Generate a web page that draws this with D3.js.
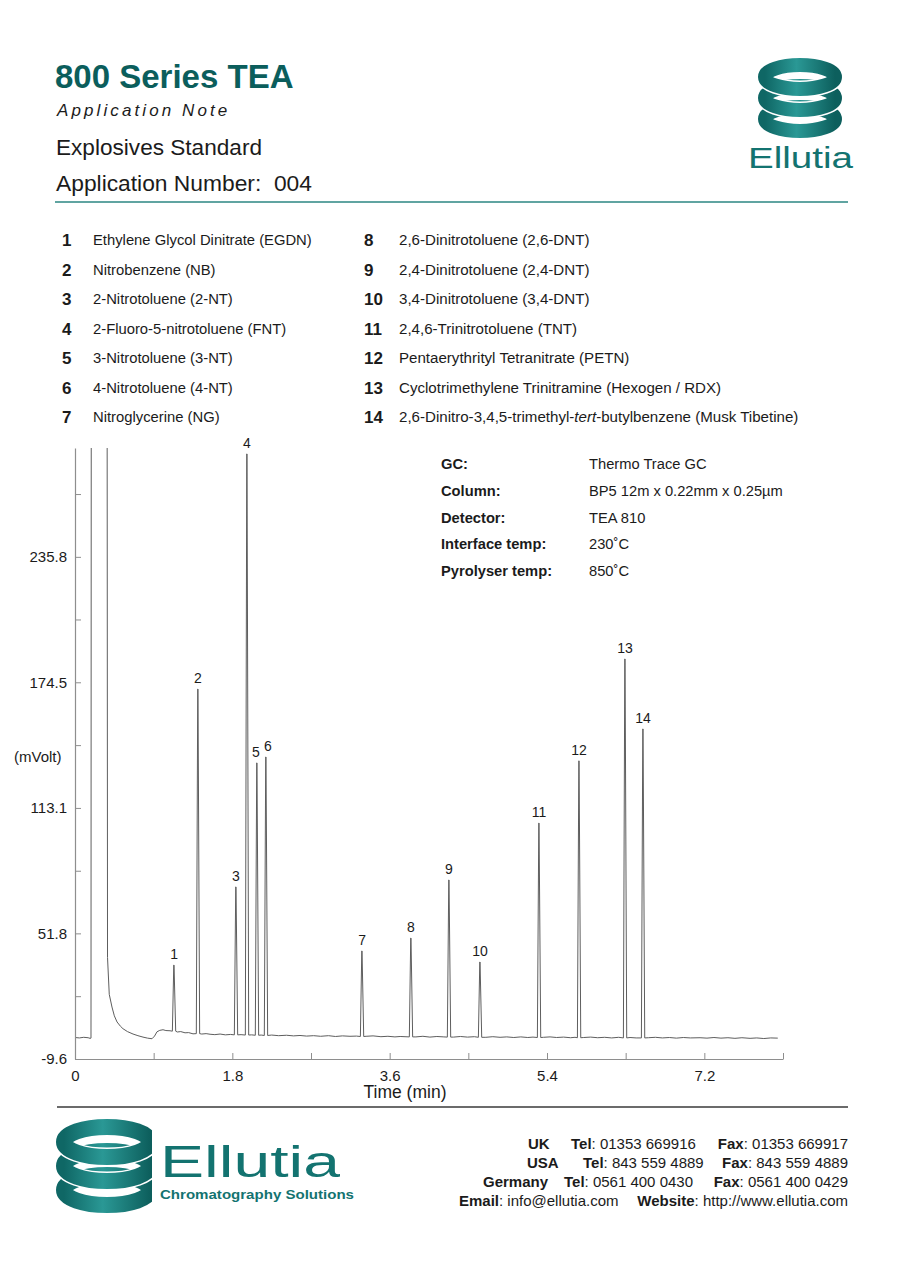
<!DOCTYPE html>
<html>
<head>
<meta charset="utf-8">
<script src="https://cdn.jsdelivr.net/npm/d3@7"></script>
<style>
  html, body { margin: 0; padding: 0; background: #fff; }
  svg { display: block; font-family: "Liberation Sans", Arial, Helvetica, sans-serif; }
  text { white-space: pre; }
</style>
</head>
<body>
<svg id="chart" width="900" height="1273"></svg>
<script>
// ---------------- DATA ----------------
const compoundIds = [1,2,3,4,5,6,7,8,9,10,11,12,13,14];
const compoundNames = [
  "Ethylene Glycol Dinitrate (EGDN)",
  "Nitrobenzene (NB)",
  "2-Nitrotoluene (2-NT)",
  "2-Fluoro-5-nitrotoluene (FNT)",
  "3-Nitrotoluene (3-NT)",
  "4-Nitrotoluene (4-NT)",
  "Nitroglycerine (NG)",
  "2,6-Dinitrotoluene (2,6-DNT)",
  "2,4-Dinitrotoluene (2,4-DNT)",
  "3,4-Dinitrotoluene (3,4-DNT)",
  "2,4,6-Trinitrotoluene (TNT)",
  "Pentaerythrityl Tetranitrate (PETN)",
  "Cyclotrimethylene Trinitramine (Hexogen / RDX)",
  "2,6-Dinitro-3,4,5-trimethyl-|tert|-butylbenzene (Musk Tibetine)"
];
const infoLabels = ["GC:", "Column:", "Detector:", "Interface temp:", "Pyrolyser temp:"];
const infoValues = ["Thermo Trace GC", "BP5 12m x 0.22mm x 0.25\u00B5m", "TEA 810", "230\u02DAC", "850\u02DAC"];

// retention time (min), apex (mV) and local baseline (mV) of each numbered peak
const peakTimes   = [1.133, 1.407, 1.842, 1.968, 2.082, 2.185, 3.284, 3.844, 4.279, 4.634, 5.309, 5.767, 6.293, 6.499];
const peakHeights = [36.3, 171.2, 74.5, 286.1, 135.1, 138.0, 43.2, 49.5, 77.9, 37.8, 105.7, 136.1, 185.9, 151.7];
const peakBase    = [4.0, 2.8, 2.2, 2.1, 2.0, 1.9, 1.4, 1.2, 1.1, 1.0, 0.9, 0.8, 0.7, 0.7];
const peakHalfWidth = 0.019;

// solvent front (goes off scale)
const solventTrace = [[0.183, 0.6], [0.187, 420], [0.366, 420], [0.372, 40], [0.392, 22], [0.423, 15.8], [0.45, 11.5],
  [0.481, 8.5], [0.52, 6.4], [0.549, 5.2], [0.60, 3.8], [0.664, 2.6], [0.72, 1.8], [0.778, 1.1], [0.83, 0.6], [0.881, 0.3],
  [0.91, 1.6], [0.938, 3.7], [0.97, 4.4], [1.007, 4.7], [1.04, 4.3], [1.087, 4.2]];

// baseline (min, mV)
const baselineTrace = [[0.00, 0.9], [0.05, 0.7], [0.10, 1.0], [0.15, 0.8], [0.172, 0.5],
  [1.17, 3.6], [1.21, 3.8], [1.259, 3.2], [1.30, 3.3], [1.35, 2.7],
  [1.45, 2.6], [1.50, 2.8], [1.545, 2.5], [1.60, 2.3], [1.66, 2.6], [1.72, 2.2], [1.78, 2.4],
  [1.90, 2.3], [2.02, 2.2], [2.13, 2.1],
  [2.25, 2.1], [2.33, 1.8], [2.42, 2.0], [2.50, 1.7], [2.574, 1.9], [2.65, 1.6], [2.73, 1.8], [2.81, 1.5], [2.90, 1.8],
  [2.98, 1.4], [3.06, 1.7], [3.146, 1.5], [3.22, 1.6], [3.33, 1.5], [3.41, 1.7], [3.50, 1.3], [3.58, 1.5], [3.66, 1.2],
  [3.72, 1.4], [3.90, 1.2], [3.98, 1.5], [4.06, 1.1], [4.14, 1.4], [4.22, 1.2], [4.33, 1.1], [4.41, 1.4], [4.49, 1.1],
  [4.57, 1.3], [4.70, 1.0], [4.78, 1.3], [4.863, 1.0], [4.94, 1.2], [5.02, 0.9], [5.10, 1.2], [5.18, 0.9], [5.24, 1.1],
  [5.36, 1.0], [5.435, 1.2], [5.51, 0.9], [5.59, 1.1], [5.67, 0.8], [5.72, 1.0], [5.82, 0.9], [5.90, 1.1], [5.98, 0.8],
  [6.06, 1.0], [6.14, 0.7], [6.22, 1.0], [6.35, 0.9], [6.42, 0.7], [6.56, 0.8], [6.64, 1.0], [6.72, 0.7], [6.80, 0.9],
  [6.88, 0.6], [6.96, 0.9], [7.04, 0.7], [7.151, 0.8], [7.23, 0.6], [7.31, 0.9], [7.39, 0.6], [7.47, 0.8], [7.55, 0.5],
  [7.63, 0.8], [7.723, 0.5], [7.80, 0.7], [7.88, 0.4], [7.96, 0.7], [8.04, 0.6]];

const xTickValues = [0, 0.9, 1.8, 2.7, 3.6, 4.5, 5.4, 6.3, 7.2, 8.1];
const xTickLabels = ["0", "", "1.8", "", "3.6", "", "5.4", "", "7.2", ""];
const yTickValues = [-9.6, 21.1, 51.8, 82.4, 113.1, 143.8, 174.5, 205.2, 235.8, 266.5];
const yTickLabels = ["-9.6", "", "51.8", "", "113.1", "", "174.5", "", "235.8", ""];
const xDomain = [0, 8.1];
const yDomain = [-9.6, 289];

const contactLeft = ["UK", "USA", "Germany"];
const contactTel = ["01353 669916", "843 559 4889", "0561 400 0430"];
const contactFax = ["01353 669917", "843 559 4889", "0561 400 0429"];
const contactEmail = "info@ellutia.com";
const contactWeb = "http://www.ellutia.com";

// ---------------- DRAW ----------------
const svg = d3.select("#chart");
const TEAL = "#0b5e5c";
const INK = "#1b1b1b";

const defs = svg.append("defs");
const grad = defs.append("linearGradient").attr("id", "tealGrad").attr("x1", 0).attr("x2", 1).attr("y1", 0).attr("y2", 0);
grad.append("stop").attr("offset", "0%").attr("stop-color", "#0f6765");
grad.append("stop").attr("offset", "45%").attr("stop-color", "#2a9895");
grad.append("stop").attr("offset", "100%").attr("stop-color", "#0d5f5d");

function drawRings(g, cx, cy0, rx, ry, gap, sw) {
  for (let i = 2; i >= 0; i--) {
    const cy = cy0 + i * gap;
    g.append("ellipse").attr("cx", cx).attr("cy", cy).attr("rx", rx).attr("ry", ry)
      .attr("fill", "none").attr("stroke", "#fff").attr("stroke-width", sw + 3);
    g.append("ellipse").attr("cx", cx).attr("cy", cy).attr("rx", rx).attr("ry", ry)
      .attr("fill", "none").attr("stroke", "url(#tealGrad)").attr("stroke-width", sw);
  }
}

// Header
svg.append("text").attr("x", 55).attr("y", 88).attr("font-size", 33).attr("font-weight", "bold")
  .attr("fill", TEAL).text("800 Series TEA");
svg.append("text").attr("x", 57).attr("y", 116).attr("font-size", 17).attr("font-style", "italic")
  .attr("letter-spacing", 3.1).attr("fill", INK).text("Application Note");
svg.append("text").attr("x", 56).attr("y", 155).attr("font-size", 22.6).attr("fill", INK).text("Explosives Standard");
svg.append("text").attr("x", 56).attr("y", 191).attr("font-size", 22.8).attr("fill", INK).text("Application Number:  004");
svg.append("line").attr("x1", 55).attr("x2", 848).attr("y1", 202).attr("y2", 202)
  .attr("stroke", "#2b8682").attr("stroke-width", 1.3);

// Header logo
const logo1 = svg.append("g");
drawRings(logo1, 800, 77, 35, 12, 21, 14);
svg.append("text").attr("x", 748).attr("y", 168).attr("font-size", 30).attr("fill", "#137370")
  .attr("textLength", 105).attr("lengthAdjust", "spacingAndGlyphs").text("Ellutia");

// Compound list
const rowY0 = 245, rowDY = 29.5;
compoundIds.forEach((id, i) => {
  const col = i < 7 ? 0 : 1;
  const r = i % 7;
  const yy = rowY0 + r * rowDY;
  svg.append("text").attr("x", col ? 364 : 62).attr("y", yy + 1).attr("font-size", 17).attr("font-weight", "bold")
    .attr("fill", INK).text(id);
  const t = svg.append("text").attr("x", col ? 399 : 93).attr("y", yy).attr("font-size", col ? 15.1 : 14.8).attr("fill", INK);
  compoundNames[i].split("|").forEach((part, k) => {
    t.append("tspan").attr("font-style", k === 1 ? "italic" : null).text(part);
  });
});

// Info block
infoLabels.forEach((lab, i) => {
  const yy = 469 + i * 26.8;
  svg.append("text").attr("x", 441).attr("y", yy).attr("font-size", 14.7).attr("font-weight", "bold").attr("fill", INK).text(lab);
  svg.append("text").attr("x", 589).attr("y", yy).attr("font-size", 14.7).attr("fill", INK).text(infoValues[i]);
});

// Chart
const x = d3.scaleLinear().domain(xDomain).range([75, 783]);
const y = d3.scaleLinear().domain(yDomain).range([1059, 448]);

defs.append("clipPath").attr("id", "plotClip").append("rect")
  .attr("x", 74).attr("y", 448).attr("width", 712).attr("height", 612);

const peakPts = [];
peakTimes.forEach((t, i) => {
  peakPts.push([t - peakHalfWidth, peakBase[i]], [t - 0.003, peakHeights[i]], [t, peakHeights[i]], [t + peakHalfWidth, peakBase[i]]);
});
const trace = baselineTrace.concat(solventTrace, peakPts).sort((a, b) => a[0] - b[0]);
const line = d3.line().x(d => x(d[0])).y(d => y(d[1]));

svg.append("path").attr("clip-path", "url(#plotClip)").datum(trace).attr("d", line)
  .attr("fill", "none").attr("stroke", "#5e5e5e").attr("stroke-width", 1).attr("stroke-linejoin", "round");

// Axes
const AX = "#8e8e8e";
const yAxis = d3.axisLeft(y).tickValues(yTickValues).tickSizeInner(-6).tickSizeOuter(0).tickPadding(8)
  .tickFormat((d, i) => yTickLabels[i]);
const gy = svg.append("g").attr("transform", "translate(75,0)").call(yAxis);
const xAxis = d3.axisBottom(x).tickValues(xTickValues).tickSizeInner(-6).tickSizeOuter(0).tickPadding(11)
  .tickFormat((d, i) => xTickLabels[i]);
const gx = svg.append("g").attr("transform", "translate(0,1059)").call(xAxis);
[gx, gy].forEach(g => {
  g.select(".domain").attr("stroke", AX).attr("stroke-width", 1.2);
  g.selectAll(".tick line").attr("stroke", AX).attr("stroke-width", 1);
  g.selectAll(".tick text").attr("fill", INK).attr("font-size", 15)
    .attr("font-family", "'Liberation Sans', Arial, Helvetica, sans-serif");
});

svg.append("text").attr("x", 14).attr("y", 762).attr("font-size", 15).attr("fill", INK).text("(mVolt)");
svg.append("text").attr("x", 405).attr("y", 1098).attr("text-anchor", "middle").attr("font-size", 17.5)
  .attr("fill", INK).text("Time (min)");

// Peak labels
const labelDx = [0, 0, 0, 0, -1, 2, 0, 0, 0, 0, 0, 0, 0, 0];
svg.append("g").selectAll("text").data(compoundIds).join("text")
  .attr("x", (d, i) => x(peakTimes[i]) + labelDx[i])
  .attr("y", (d, i) => y(peakHeights[i]) - 6)
  .attr("text-anchor", "middle").attr("font-size", 14).attr("fill", INK)
  .text(d => d);

// Footer rule
svg.append("line").attr("x1", 57).attr("x2", 848).attr("y1", 1107).attr("y2", 1107)
  .attr("stroke", "#3a3a3a").attr("stroke-width", 1.5);

// Footer logo
defs.append("clipPath").attr("id", "footClip").append("rect").attr("x", 40).attr("y", 1110).attr("width", 112).attr("height", 110);
const logo2 = svg.append("g").attr("clip-path", "url(#footClip)");
drawRings(logo2, 107, 1142, 43, 15, 24, 16);
svg.append("text").attr("x", 160).attr("y", 1177).attr("font-size", 44).attr("fill", "#137370")
  .attr("textLength", 180).attr("lengthAdjust", "spacingAndGlyphs").text("Ellutia");
svg.append("text").attr("x", 160).attr("y", 1199).attr("font-size", 13.5).attr("font-weight", "bold").attr("fill", "#137370")
  .attr("textLength", 194).attr("lengthAdjust", "spacingAndGlyphs").text("Chromatography Solutions");

// Contacts
const cStart = [528, 527, 483];
const cTel = [571, 583, 564];
contactLeft.forEach((lab, i) => {
  const yy = 1149 + i * 19;
  svg.append("text").attr("x", cStart[i]).attr("y", yy).attr("font-size", 15).attr("font-weight", "bold").attr("fill", INK).text(lab);
  const t1 = svg.append("text").attr("x", cTel[i]).attr("y", yy).attr("font-size", 15).attr("fill", INK);
  t1.append("tspan").attr("font-weight", "bold").text("Tel");
  t1.append("tspan").text(": " + contactTel[i]);
  const t2 = svg.append("text").attr("x", 848).attr("y", yy).attr("text-anchor", "end").attr("font-size", 15).attr("fill", INK);
  t2.append("tspan").attr("font-weight", "bold").text("Fax");
  t2.append("tspan").text(": " + contactFax[i]);
});
const e1 = svg.append("text").attr("x", 459).attr("y", 1206).attr("font-size", 15).attr("fill", INK);
e1.append("tspan").attr("font-weight", "bold").text("Email");
e1.append("tspan").text(": " + contactEmail);
const e2 = svg.append("text").attr("x", 848).attr("y", 1206).attr("text-anchor", "end").attr("font-size", 15).attr("fill", INK);
e2.append("tspan").attr("font-weight", "bold").text("Website");
e2.append("tspan").text(": " + contactWeb);
</script>
</body>
</html>
